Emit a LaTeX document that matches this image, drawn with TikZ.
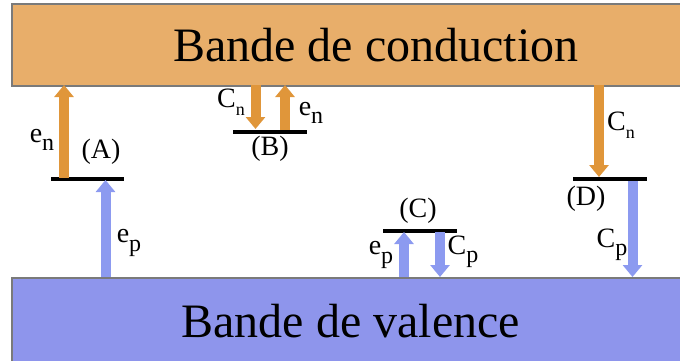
\documentclass[tikz,border=0pt]{standalone}
\usepackage{fontspec}
\setmainfont{Liberation Serif}
\usetikzlibrary{arrows.meta}
\definecolor{cbfill}{HTML}{E8AE6A}
\definecolor{vbfill}{HTML}{8E95EC}
\definecolor{orangearr}{HTML}{E0963A}
\definecolor{bluearr}{HTML}{8C9AF0}
\definecolor{bandline}{HTML}{7A7A7A}
\newcommand{\lbl}[3][24]{#2\raisebox{-0.3em}{\fontsize{#1}{#1}\selectfont #3}}

\begin{document}
\begin{tikzpicture}[x=1pt,y=-1pt,
  band/.style={draw=bandline,line width=1.5pt,anchor=north west,inner sep=0pt,
    font=\fontsize{48}{48}\selectfont},
  level/.style={line width=4pt},
  carrier/.style={line width=10pt,-{Triangle[width=19pt,length=12pt]}},
  tag/.style={font=\fontsize{28}{28}\selectfont,inner sep=0pt}]
  \useasboundingbox (0,0) rectangle (680,360);
  % bands
  \node[band,fill=cbfill,minimum width=728pt,minimum height=82pt] (cb) at (11,3) {Bande de conduction};
  \node[band,fill=vbfill,minimum width=678pt,minimum height=86pt] (vb) at (11,277) {Bande de valence};
  % levels
  \coordinate (A1) at (51,178.5);  \coordinate (A2) at (124,178.5);
  \coordinate (B1) at (233,131.5); \coordinate (B2) at (307,131.5);
  \coordinate (C1) at (383,230.5); \coordinate (C2) at (457,230.5);
  \coordinate (D1) at (573,179);   \coordinate (D2) at (647,179);
  \foreach \lv in {A,B,C,D}
    \draw[level] (\lv1) -- (\lv2);
  % (A)
  \coordinate (Aen0) at (64,178);    \coordinate (Aen1) at (64,85);
  \coordinate (Aep0) at (105.5,277); \coordinate (Aep1) at (105.5,180);
  \draw[carrier,orangearr] (Aen0) -- (Aen1);
  \draw[carrier,bluearr] (Aep0) -- (Aep1);
  \node[tag] (Aenlbl) at (42,140) {\lbl{e}{n}};
  \node[tag] (Aeplbl) at (129,243) {\lbl{e}{p}};
  \node[tag] (Atag) at (101,152) {(A)};
  % (B)
  \coordinate (Bcn0) at (255.5,85); \coordinate (Bcn1) at (255.5,129);
  \coordinate (Ben0) at (285,130);  \coordinate (Ben1) at (285,85);
  \draw[carrier,orangearr] (Bcn0) -- (Bcn1);
  \draw[carrier,orangearr] (Ben0) -- (Ben1);
  \node[tag] (Bcnlbl) at (231,102) {\lbl[18]{C}{n}};
  \node[tag] (Benlbl) at (311,113) {\lbl{e}{n}};
  \node[tag] (Btag) at (270,149) {(B)};
  % (C)
  \coordinate (Cep0) at (404,277); \coordinate (Cep1) at (404,232);
  \coordinate (Ccp0) at (440,232); \coordinate (Ccp1) at (440,277);
  \draw[carrier,bluearr] (Cep0) -- (Cep1);
  \draw[carrier,bluearr] (Ccp0) -- (Ccp1);
  \node[tag] (Ceplbl) at (381,255) {\lbl{e}{p}};
  \node[tag] (Ccplbl) at (463,252) {\lbl{C}{p}};
  \node[tag] (Ctag) at (418,211) {(C)};
  % (D)
  \coordinate (Dcn0) at (599,85);    \coordinate (Dcn1) at (599,177);
  \coordinate (Dcp0) at (632.5,181); \coordinate (Dcp1) at (632.5,277);
  \draw[carrier,orangearr] (Dcn0) -- (Dcn1);
  \draw[carrier,bluearr] (Dcp0) -- (Dcp1);
  \node[tag] (Dcnlbl) at (621,125) {\lbl[18]{C}{n}};
  \node[tag] (Dcplbl) at (612,245) {\lbl{C}{p}};
  \node[tag] (Dtag) at (586,199) {(D)};
\end{tikzpicture}
\end{document}
